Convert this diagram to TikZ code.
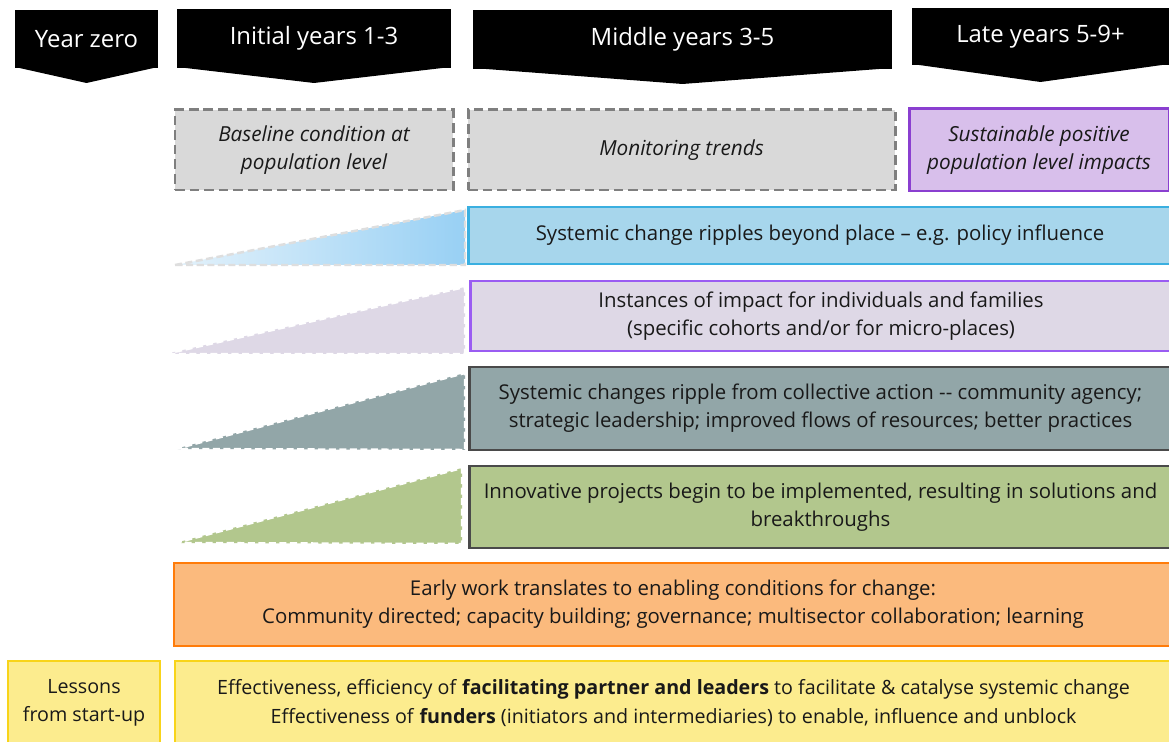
\documentclass[tikz,border=0pt]{standalone}
\usepackage{fontspec}
\setmainfont{Open Sans}
\usepackage{tikz}
\usetikzlibrary{positioning,calc}
\usepackage{xcolor}

\definecolor{greyfill}{HTML}{D9D9D9}
\definecolor{greyline}{HTML}{7F7F7F}
\definecolor{sustfill}{HTML}{D8BFEB}
\definecolor{sustline}{HTML}{8A3FD0}
\definecolor{skyfill}{HTML}{A7D6EC}
\definecolor{skyline}{HTML}{3AAFE0}
\definecolor{skylight}{HTML}{E4F2FB}
\definecolor{skydeep}{HTML}{98D0F4}
\definecolor{lavfill}{HTML}{DED8E6}
\definecolor{lavline}{HTML}{9A5CF2}
\definecolor{tealfill}{HTML}{92A6A8}
\definecolor{olivefill}{HTML}{B2C78D}
\definecolor{darkline}{HTML}{4A4A4A}
\definecolor{orangefill}{HTML}{FBBA7D}
\definecolor{orangeline}{HTML}{FF7C0A}
\definecolor{yellowfill}{HTML}{FCEC8E}
\definecolor{yellowline}{HTML}{F8D41A}
\newcommand{\pxu}{0.02cm}

\begin{document}
\begin{tikzpicture}[x=0.02cm, y=-0.02cm,
    every node/.style={inner sep=0pt, outer sep=0pt, align=center, text=black!90},
    head/.style={fill=black, text=white, font=\fontsize{13.6}{16}\selectfont},
    box/.style={draw, line width=1.7pt, font=\fontsize{11.6}{16}\selectfont},
    greybox/.style={box, draw=greyline, fill=greyfill, dash pattern=on 5.5pt off 2.8pt,
        font=\fontsize{11.8}{16}\selectfont\itshape},
    yellowbox/.style={box, draw=yellowline, fill=yellowfill, font=\fontsize{11.2}{16}\selectfont},
    wedge/.style={line width=1.4pt, dash pattern=on 4pt off 2pt}]
    \useasboundingbox (0,0) rectangle (1169,742);
    \fill[white] (0,0) rectangle (1169,742);

    \node[head, minimum width=143*\pxu, minimum height=58*\pxu] (hzero) at (86.5,39) {Year zero};
    \fill ($(hzero.south west)+(0,-1)$) -- ($(hzero.south)+(0,15)$) -- ($(hzero.south east)+(0,-1)$) -- cycle;
    \node[head, minimum width=274*\pxu, minimum height=59*\pxu] (hinit) at (314,38.5) {Initial years 1-3};
    \fill ($(hinit.south west)+(0,-1)$) -- ($(hinit.south)+(0,15)$) -- ($(hinit.south east)+(0,-1)$) -- cycle;
    \node[head, minimum width=419*\pxu, minimum height=59*\pxu] (hmid) at (682.5,39.5) {Middle years 3-5};
    \fill ($(hmid.south west)+(0,-1)$) -- ($(hmid.south)+(0,15)$) -- ($(hmid.south east)+(0,-1)$) -- cycle;
    \node[head, minimum width=257*\pxu, minimum height=57*\pxu] (hlate) at (1040.5,36.5) {Late years 5-9+};
    \fill ($(hlate.south west)+(0,-1)$) -- ($(hlate.south)+(0,17)$) -- ($(hlate.south east)+(0,-1)$) -- cycle;

    \node[greybox, minimum width=278*\pxu, minimum height=80*\pxu] (base) at (314,150) {Baseline condition at\\population level};
    \node[greybox, minimum width=427*\pxu, minimum height=80*\pxu] (mon) at (681.5,150) {Monitoring trends};
    \node[box, draw=sustline, fill=sustfill, font=\fontsize{11.8}{16}\selectfont\itshape,
        minimum width=260*\pxu, minimum height=82*\pxu] (sust) at (1039,150) {Sustainable positive\\population level impacts};

    \node[box, draw=skyline, fill=skyfill, minimum width=704*\pxu, minimum height=57*\pxu] (policy) at (820,235.5)
        {Systemic change ripples beyond place -- e.g. policy influence};
    \path[wedge, left color=skylight, right color=skydeep, draw=black!13]
        (175,265) -- ($(policy.north west)+(-3,3)$) -- ($(policy.south west)+(-3,1)$) -- cycle;

    \node[box, draw=lavline, fill=lavfill, minimum width=702*\pxu, minimum height=70*\pxu] (instances) at (821,316)
        {Instances of impact for individuals and families\\(specific cohorts and/or for micro-places)};
    \path[wedge, fill=lavfill, draw=white] (165,354) -- ($(instances.north west)+(-5,6)$) -- ($(instances.south west)+(-5,3)$) -- cycle;

    \node[box, draw=darkline, fill=tealfill, minimum width=703*\pxu, minimum height=83*\pxu] (collective) at (820.5,408.5)
        {Systemic changes ripple from collective action -{}- community agency;\\strategic leadership; improved flows of resources; better practices};
    \path[wedge, fill=tealfill, draw=white] (175,449) -- ($(collective.north west)+(-4,6)$) -- ($(collective.south west)+(-4,0)$) -- cycle;

    \node[box, draw=darkline, fill=olivefill, minimum width=703*\pxu, minimum height=82*\pxu] (projects) at (820.5,507)
        {Innovative projects begin to be implemented, resulting in solutions and\\breakthroughs};
    \path[wedge, fill=olivefill, draw=white] (175,543) -- ($(projects.north west)+(-7,2)$) -- ($(projects.south west)+(-7,-4)$) -- cycle;

    \node[box, draw=orangeline, fill=orangefill, minimum width=998*\pxu, minimum height=83*\pxu] (early) at (673,604.5)
        {Early work translates to enabling conditions for change:\\Community directed; capacity building; governance; multisector collaboration; learning};

    \node[yellowbox, minimum width=152*\pxu, minimum height=84*\pxu] (lessons) at (84,703) {Lessons\\from start-up};
    \node[yellowbox, minimum width=997*\pxu, minimum height=84*\pxu] (effect) at (673.5,703)
        {Effectiveness, efficiency of \textbf{facilitating partner and leaders} to facilitate \& catalyse systemic change\\
         Effectiveness of \textbf{funders} (initiators and intermediaries) to enable, influence and unblock};
\end{tikzpicture}
\end{document}
